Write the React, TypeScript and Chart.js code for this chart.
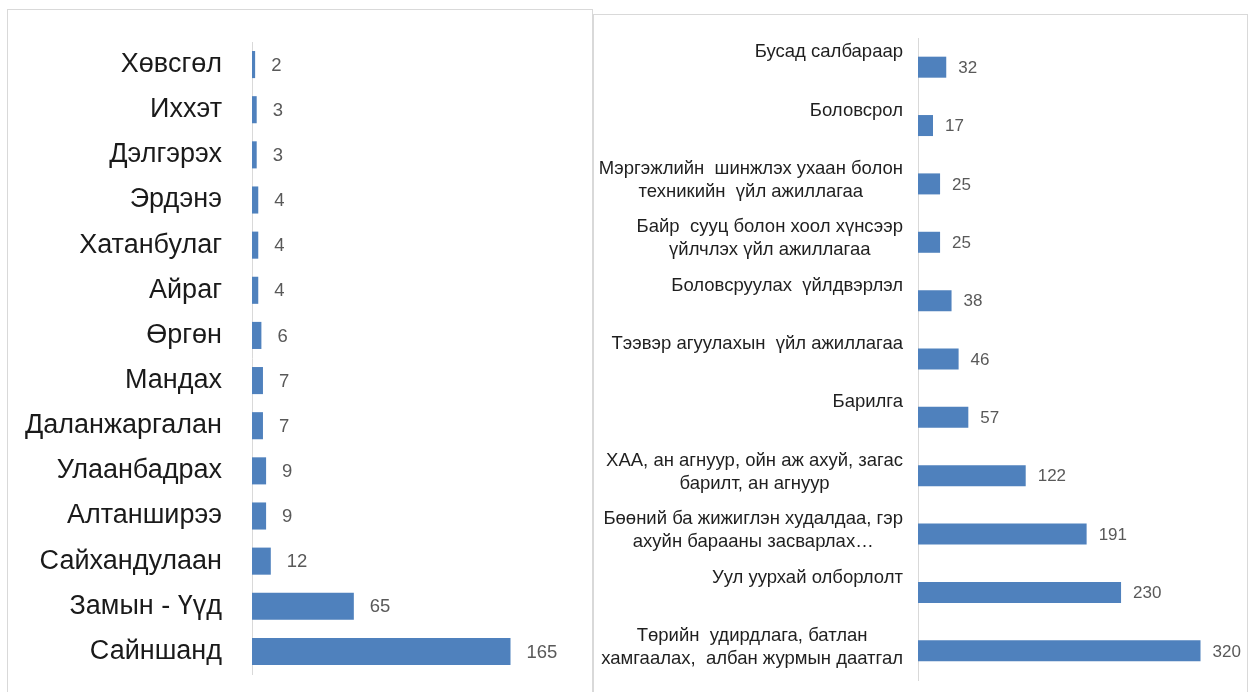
import React, { useEffect, useRef } from 'react';
import { Chart, registerables } from 'chart.js';

Chart.register(...registerables);

const leftCategories = [
  'Хөвсгөл', 'Иххэт', 'Дэлгэрэх', 'Эрдэнэ', 'Хатанбулаг', 'Айраг', 'Өргөн',
  'Мандах', 'Даланжаргалан', 'Улаанбадрах', 'Алтанширээ', 'Сайхандулаан',
  'Замын - Үүд', 'Сайншанд',
];
const leftValues = [2, 3, 3, 4, 4, 4, 6, 7, 7, 9, 9, 12, 65, 165];

const rightCategories = [
  ['Бусад салбараар'],
  ['Боловсрол'],
  ['Мэргэжлийн  шинжлэх ухаан болон', 'техникийн  үйл ажиллагаа'],
  ['Байр  сууц болон хоол хүнсээр', 'үйлчлэх үйл ажиллагаа'],
  ['Боловсруулах  үйлдвэрлэл'],
  ['Тээвэр агуулахын  үйл ажиллагаа'],
  ['Барилга'],
  ['ХАА, ан агнуур, ойн аж ахуй, загас', 'барилт, ан агнуур'],
  ['Бөөний ба жижиглэн худалдаа, гэр', 'ахуйн барааны засварлах…'],
  ['Уул уурхай олборлолт'],
  ['Төрийн  удирдлага, батлан', 'хамгаалах,  албан журмын даатгал'],
];
const rightValues = [32, 17, 25, 25, 38, 46, 57, 122, 191, 230, 320];

const BAR = '#4F81BD';
const AXIS = '#d9d9d9';
const FONT = '"Liberation Sans", Arial, sans-serif';

function valueLabels(size: number, offset: number) {
  return {
    id: 'valueLabels',
    afterDatasetsDraw(chart: any) {
      const ctx = chart.ctx;
      const meta = chart.getDatasetMeta(0);
      const data = chart.data.datasets[0].data;
      ctx.save();
      ctx.font = `${size}px ${FONT}`;
      ctx.fillStyle = '#595959';
      ctx.textAlign = 'left';
      ctx.textBaseline = 'middle';
      meta.data.forEach((bar: any, i: number) => {
        ctx.fillText(String(data[i]), bar.x + offset, bar.y + 1);
      });
      ctx.restore();
    },
  };
}

const rightLabelPlugin = {
  id: 'rightLabels',
  afterDraw(chart: any) {
    const ctx = chart.ctx;
    const yScale = chart.scales.y;
    ctx.save();
    ctx.font = `18.5px ${FONT}`;
    ctx.fillStyle = '#1f1f1f';
    ctx.textAlign = 'center';
    ctx.textBaseline = 'middle';
    rightCategories.forEach((lines, i) => {
      const y = yScale.getPixelForTick(i);
      const w = Math.max(...lines.map((l) => ctx.measureText(l).width));
      const cx = chart.chartArea.left - 15 - w / 2;
      lines.forEach((l, j) => ctx.fillText(l, cx, y - 15 + j * 23));
    });
    ctx.restore();
  },
};

export default function App() {
  const leftRef = useRef<HTMLCanvasElement>(null);
  const rightRef = useRef<HTMLCanvasElement>(null);

  useEffect(() => {
    const left = new Chart(leftRef.current!, {
      type: 'bar',
      data: {
        labels: leftCategories,
        datasets: [
          {
            data: leftValues,
            backgroundColor: BAR,
            barPercentage: 0.6,
            categoryPercentage: 1,
          },
        ],
      },
      options: {
        indexAxis: 'y',
        animation: false,
        responsive: false,
        devicePixelRatio: 1,
        layout: { padding: { left: 0, right: 58, top: 42, bottom: 18 } },
        plugins: { legend: { display: false }, tooltip: { enabled: false } },
        scales: {
          x: { display: false, min: 0, max: 180 },
          y: {
            afterFit: (s: any) => {
              s.width = 252;
              s.paddingTop = 0;
              s.paddingBottom = 0;
            },
            grid: { display: false, drawTicks: false },
            border: { display: true, color: AXIS, width: 1 },
            ticks: {
              font: { family: FONT, size: 27 },
              color: '#1a1a1a',
              padding: 30,
            },
          },
        },
      },
      plugins: [valueLabels(18.5, 16)],
    });

    const right = new Chart(rightRef.current!, {
      type: 'bar',
      data: {
        labels: rightCategories.map((l) => l.join(' ')),
        datasets: [
          {
            data: rightValues,
            backgroundColor: BAR,
            barPercentage: 0.36,
            categoryPercentage: 1,
          },
        ],
      },
      options: {
        indexAxis: 'y',
        animation: false,
        responsive: false,
        devicePixelRatio: 1,
        layout: { padding: { left: 0, right: 26, top: 38, bottom: 12 } },
        plugins: { legend: { display: false }, tooltip: { enabled: false } },
        scales: {
          x: { display: false, min: 0, max: 350 },
          y: {
            afterFit: (s: any) => {
              s.width = 325;
            },
            grid: { display: false, drawTicks: false },
            border: { display: true, color: AXIS, width: 1 },
            ticks: { display: false },
          },
        },
      },
      plugins: [valueLabels(17, 12), rightLabelPlugin],
    });

    return () => {
      left.destroy();
      right.destroy();
    };
  }, []);

  return (
    <div
      style={{
        position: 'fixed',
        left: 0,
        top: 0,
        width: 1253,
        height: 692,
        overflow: 'hidden',
        background: '#fff',
      }}
    >
      <div
        style={{
          position: 'absolute',
          left: 7,
          top: 9,
          width: 584,
          height: 720,
          border: `1px solid ${AXIS}`,
        }}
      />
      <div
        style={{
          position: 'absolute',
          left: 593,
          top: 14,
          width: 653,
          height: 720,
          border: `1px solid ${AXIS}`,
        }}
      />
      <canvas
        ref={leftRef}
        width={592}
        height={692}
        style={{ position: 'absolute', left: 0, top: 0, width: 592, height: 692 }}
      />
      <canvas
        ref={rightRef}
        width={660}
        height={692}
        style={{ position: 'absolute', left: 593, top: 0, width: 660, height: 692 }}
      />
    </div>
  );
}
